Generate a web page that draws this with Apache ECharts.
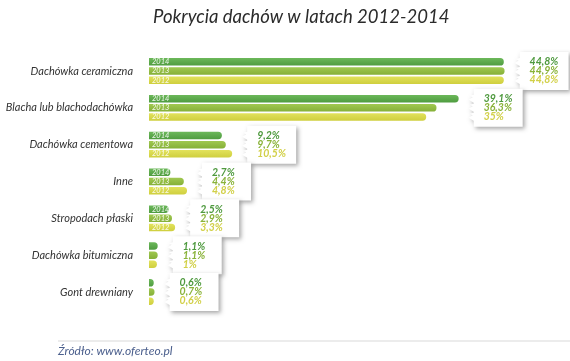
<!DOCTYPE html>
<html>
<head>
<meta charset="utf-8">
<script src="https://cdn.jsdelivr.net/npm/echarts@6/dist/echarts.min.js"></script>
<style>html,body{margin:0;padding:0;background:#fff;}#c{width:570px;height:361px;}</style>
</head>
<body>
<div id="c"></div>
<script>
var categories = ['Dachówka ceramiczna','Blacha lub blachodachówka','Dachówka cementowa','Inne','Stropodach płaski','Dachówka bitumiczna','Gont drewniany'];
var years = ['2014','2013','2012'];
var v2014 = [44.8, 39.1, 9.2, 2.7, 2.5, 1.1, 0.6];
var v2013 = [44.9, 36.3, 9.7, 4.4, 2.9, 1.1, 0.7];
var v2012 = [44.8, 35, 10.5, 4.8, 3.3, 1, 0.6];

var colors = [['#6cb85a','#4f9c40'],['#a0c850','#85b038'],['#e2e25c','#cfcf3e']];
var textColors = ['#4f9a3f','#8ab33a','#d2d048'];
var seriesData = [v2014, v2013, v2012];

function fmt(v){ return String(v).replace('.', ',') + '%'; }

var barSeries = years.map(function(y, i){
  return {
    type: 'bar', name: y, data: seriesData[i],
    barWidth: 7.5, barGap: '22%',
    itemStyle: {
      borderRadius: [0,3.7,3.7,0],
      color: new echarts.graphic.LinearGradient(0,0,0,1,[{offset:0,color:colors[i][0]},{offset:1,color:colors[i][1]}])
    },
    label: {
      show: true, position: 'insideLeft', distance: 3,
      formatter: function(p){ return p.value >= 2 ? p.seriesName : ''; },
      fontSize: 7.5, fontStyle: 'italic', fontFamily: 'Lato', color: 'rgba(255,255,255,0.9)'
    },
    silent: true, animation: false
  };
});

var boxData = categories.map(function(c, i){
  return [i, Math.max(v2014[i], v2013[i], v2012[i]), v2014[i], v2013[i], v2012[i]];
});

var calloutSeries = {
  type: 'custom', data: boxData, clip: false, silent: true, animation: false, z: 5,
  encode: { x: 1, y: 0 },
  renderItem: function(params, api){
    var idx = api.value(0), mx = api.value(1);
    var c = api.coord([mx, idx]);
    var tip = c[0] + 10, cy = c[1];
    var left = tip + 5, w = 49, top = cy - 19, bot = cy + 19;
    var rows = [cy - 9, cy, cy + 9];
    var pts = [[left, top],[left + w, top],[left + w, bot],[left, bot]];
    for (var r = 2; r >= 0; r--) {
      var ry = rows[r];
      pts.push([left, ry + 4]);
      pts.push([tip, ry + 1]);
      pts.push([left - 1, ry - 1.5]);
      pts.push([tip + 1, ry - 3]);
      pts.push([left, ry - 4]);
    }
    var children = [{
      type: 'polygon', shape: { points: pts },
      style: { fill: '#fff', shadowBlur: 4, shadowOffsetX: 2, shadowOffsetY: 2, shadowColor: 'rgba(0,0,0,0.35)' }
    }];
    for (var k = 0; k < 3; k++) {
      children.push({
        type: 'text',
        style: {
          x: left + 10, y: rows[k], text: fmt(api.value(2 + k)),
          fill: textColors[k], font: 'italic bold 10.5px Lato',
          verticalAlign: 'middle', align: 'left'
        }
      });
    }
    return { type: 'group', children: children };
  }
};

var chart = echarts.init(document.getElementById('c'), null, {renderer: 'canvas'});
chart.setOption({
  backgroundColor: '#fff',
  animation: false,
  title: {
    text: 'Pokrycia dachów w latach 2012-2014', left: 148, top: 3,
    textStyle: { fontFamily: 'Lato', fontStyle: 'italic', fontWeight: 'normal', fontSize: 18.5, color: '#2b2b2b' }
  },
  grid: { left: 149, right: 25, top: 52.6, bottom: 50.6 },
  xAxis: { type: 'value', min: 0, max: 50, show: false },
  yAxis: {
    type: 'category', data: categories, inverse: true,
    axisLine: { show: false }, axisTick: { show: false },
    axisLabel: { margin: 16, fontFamily: 'Lato', fontStyle: 'italic', fontSize: 11, color: '#333' }
  },
  series: barSeries.concat([calloutSeries]),
  graphic: [
    { type: 'line', shape: { x1: 58, y1: 341, x2: 570, y2: 341 }, style: { stroke: '#e6e6e6', lineWidth: 1.5 } },
    { type: 'text', left: 58, top: 345, style: { text: 'Źródło: www.oferteo.pl', font: 'italic 12px Lato', fill: '#4a5e8c' } }
  ]
});
</script>
</body>
</html>
